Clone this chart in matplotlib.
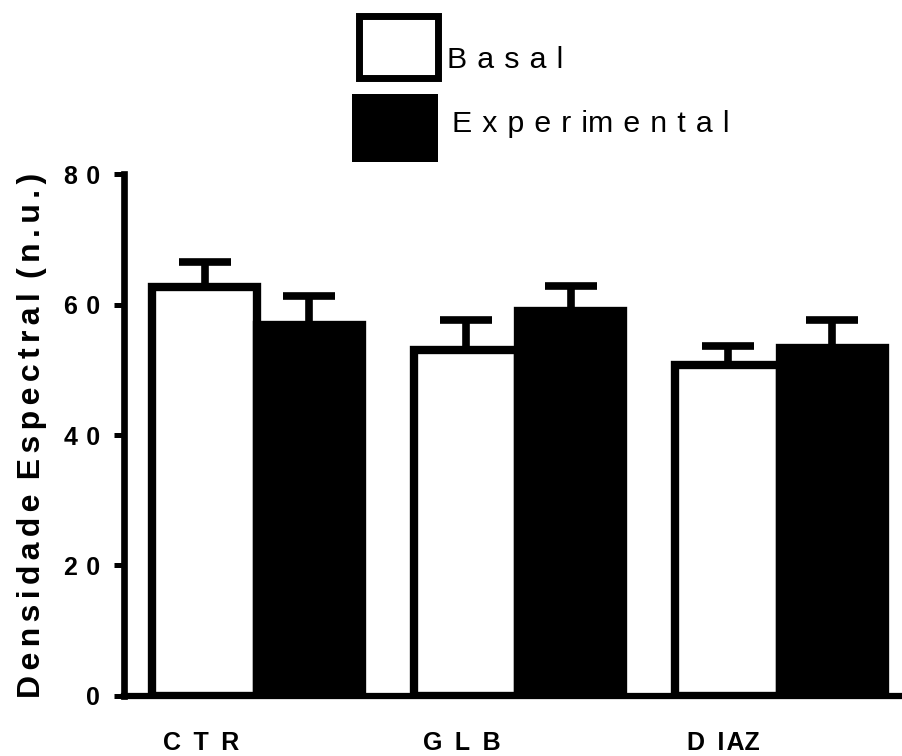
import numpy as np
import matplotlib
matplotlib.use("Agg")
import matplotlib.pyplot as plt
from matplotlib.patches import Rectangle
from matplotlib.transforms import ScaledTranslation

plt.rcParams['font.family'] = ['Liberation Sans', 'DejaVu Sans']

# ---- data ----
categories = ["C\u2002T\u2002R", "G\u2002L\u2002B", "D\u2002I\u200aAZ"]
basal = [62.8, 53.0, 50.8]
basal_err = [3.8, 4.7, 2.9]
experimental = [56.9, 59.1, 53.4]
experimental_err = [4.5, 3.8, 4.2]
yticks = [0, 20, 40, 60, 80]
ytick_labels = ["0", "2\u20040", "4\u20040", "6\u20040", "8\u20040"]
ylabel = ("D\u2006e\u2006n\u2006s\u2006i\u2006d\u2006a\u2006d\u2006e\u2006 "
          "E\u2006s\u2006p\u2006e\u2006c\u2006t\u2006r\u2006a\u2006l\u2006 "
          "(\u2006n\u2006.\u2006u\u2006.\u2006)")
legend_labels = ["B\u2004a\u2004s\u2004a\u2004l",
                 "E\u2004x\u2004p\u2004e\u2004r\u2004im\u2004e\u2004n\u2004t\u2004a\u2004l"]

W, H = 902, 756
fig = plt.figure(figsize=(W / 100, H / 100), dpi=100)
ax = fig.add_axes([124 / W, (H - 695.8) / H, (W - 124) / W, 521.4 / H])

x = np.arange(len(categories))
w = 0.4
bw = 6.0

ax.bar(x - w / 2, basal, w, color="white", edgecolor="black", linewidth=bw, zorder=3)
ax.bar(x + w / 2, experimental, w, color="black", edgecolor="black", linewidth=bw, zorder=3)
ax.errorbar(x - w / 2, basal, yerr=basal_err, fmt="none", ecolor="black",
            elinewidth=5.5, capsize=19, capthick=5.5, zorder=2)
ax.errorbar(x + w / 2, experimental, yerr=experimental_err, fmt="none", ecolor="black",
            elinewidth=5.5, capsize=19, capthick=5.5, zorder=2)

ax.set_xlim(-0.5086, 2.4666)
ax.set_ylim(0, 80)

for s in ["top", "right"]:
    ax.spines[s].set_visible(False)
ax.spines["left"].set_linewidth(4.8)
ax.spines["bottom"].set_linewidth(4.5)
ax.spines["left"].set_zorder(4)
ax.spines["bottom"].set_zorder(4)

ax.set_yticks(yticks)
ax.set_yticklabels(ytick_labels, fontsize=18, fontweight="bold")
ax.tick_params(axis="y", length=7.2, width=3.6, pad=10)

ax.set_xticks(x - w / 2)
ax.set_xticklabels(categories, fontsize=18, fontweight="bold")
ax.tick_params(axis="x", length=0, pad=25)
shift = ScaledTranslation(-4 / 100, 0, fig.dpi_scale_trans)
for lbl in ax.get_xticklabels():
    lbl.set_transform(lbl.get_transform() + shift)

ax.set_ylabel(ylabel, fontsize=23, fontweight="bold", labelpad=12)

# ---- legend (manual) ----
def fx(px):
    return px / W

def fy(py):
    return 1 - py / H

fig.add_artist(Rectangle((fx(358.5), fy(77.5)), fx(437.5) - fx(358.5), fy(16.5) - fy(77.5),
                         transform=fig.transFigure, facecolor="white", edgecolor="black",
                         linewidth=5.0))
fig.add_artist(Rectangle((fx(352), fy(162)), fx(438) - fx(352), fy(94) - fy(162),
                         transform=fig.transFigure, facecolor="black", edgecolor="none"))
fig.text(fx(447), fy(68.3), legend_labels[0], fontsize=21.8, va="baseline", ha="left")
fig.text(fx(451.7), fy(131.7), legend_labels[1], fontsize=21.8, va="baseline", ha="left")

fig.savefig("out.png", dpi=100)
